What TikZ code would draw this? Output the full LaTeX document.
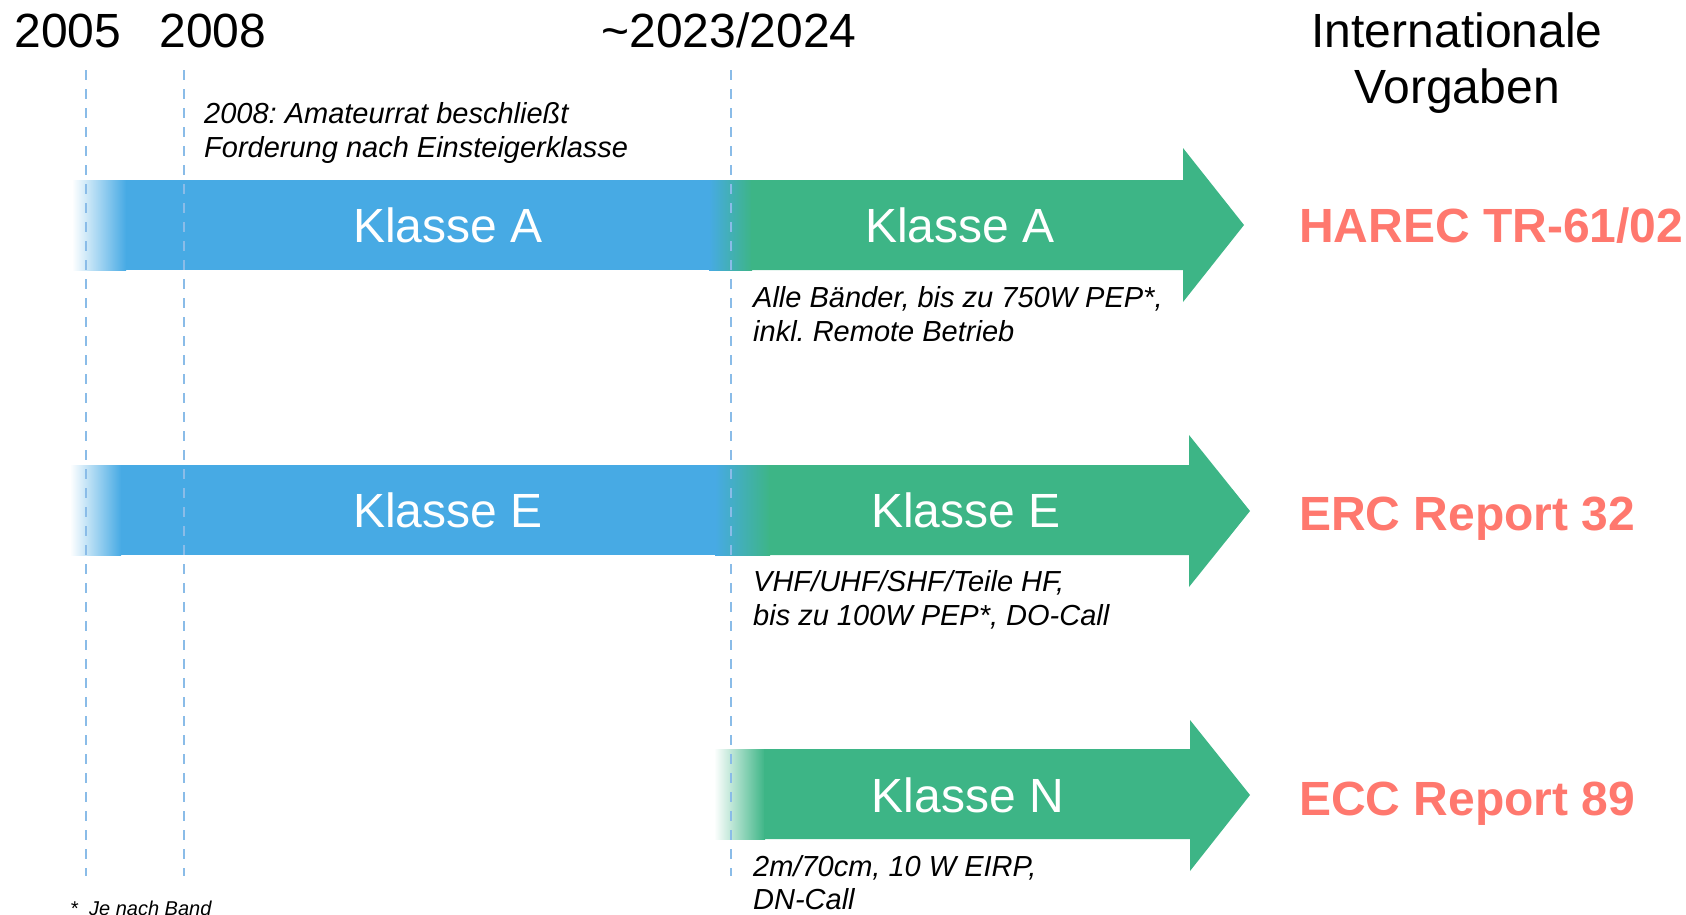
\documentclass[tikz,border=0pt]{standalone}
\usepackage{fontspec}
\setmainfont{Liberation Sans}
\frenchspacing
\definecolor{barblue}{RGB}{71,170,228}
\definecolor{bargreen}{RGB}{61,181,134}
\definecolor{refred}{RGB}{255,120,110}
\definecolor{dashblue}{RGB}{138,188,232}
\tikzset{
  yearlbl/.style={font=\fontsize{48}{56}\selectfont, anchor=base, inner sep=0pt},
  klasselbl/.style={font=\fontsize{48}{56}\selectfont, text=white, anchor=base, inner sep=0pt},
  reflbl/.style={font=\bfseries\fontsize{48}{56}\selectfont, text=refred, anchor=base west, inner sep=0pt},
  notelbl/.style={font=\itshape\fontsize{29}{34}\selectfont, anchor=base west, inner sep=0pt},
  footlbl/.style={font=\itshape\fontsize{20}{24}\selectfont, anchor=base west, inner sep=0pt},
  guide/.style={draw=dashblue, line width=2.6pt, dash pattern=on 10pt off 9pt},
  bluebar/.style={fill=barblue, draw=none},
  greenarrow/.style={fill=bargreen, draw=none},
}
\begin{document}
\begin{tikzpicture}[x=1pt,y=-1pt]
\useasboundingbox (0,0) rectangle (1686,914);

% ---------- Row A ----------
\path[bluebar] (124,180) rectangle (731,270);
\shade[left color=white, right color=barblue, draw=none] (72,180) rectangle (126,270);
\shade[left color=barblue, right color=bargreen, draw=none] (709,180) rectangle (752,270);
\path[greenarrow] (751,180) -- (1183,180) -- (1183,148) -- (1244,225) -- (1183,302) -- (1183,270) -- (751,270) -- cycle;

% ---------- Row E ----------
\path[bluebar] (119,465) rectangle (731,555);
\shade[left color=white, right color=barblue, draw=none] (70,465) rectangle (121,555);
\shade[left color=barblue, right color=bargreen, draw=none] (715,465) rectangle (770,555);
\path[greenarrow] (769,465) -- (1189,465) -- (1189,435) -- (1250,511) -- (1189,587) -- (1189,555) -- (769,555) -- cycle;

% ---------- Row N ----------
\shade[left color=white, right color=bargreen, draw=none] (714,749) rectangle (765,839);
\path[greenarrow] (764,749) -- (1190,749) -- (1190,720) -- (1250,795) -- (1190,871) -- (1190,839) -- (764,839) -- cycle;

% ---------- guide lines ----------
\coordinate (g1t) at (86,70);   \coordinate (g1b) at (86,876);
\coordinate (g2t) at (184,70);  \coordinate (g2b) at (184,876);
\coordinate (g3t) at (731,70);  \coordinate (g3b) at (731,876);
\draw[guide] (g1t) -- (g1b);
\draw[guide] (g2t) -- (g2b);
\draw[guide] (g3t) -- (g3b);

% ---------- headings ----------
\node[yearlbl] (y2005) at (68,47) {2005};
\node[yearlbl] (y2008) at (213,47) {2008};
\node[yearlbl] (y2023) at (729,47) {\char"007E 2023/2024};
\node[yearlbl] (int1) at (1457,47) {Internationale};
\node[yearlbl] (int2) at (1457,103) {Vorgaben};

% ---------- notes ----------
\node[notelbl] (n1a) at (204,123) {2008: Amateurrat beschließt};
\node[notelbl] (n1b) at (204,157) {Forderung nach Einsteigerklasse};
\node[notelbl] (n2a) at (753,307) {Alle Bänder, bis zu 750W PEP*,};
\node[notelbl] (n2b) at (753,341) {inkl. Remote Betrieb};
\node[notelbl] (n3a) at (753,591) {VHF/UHF/SHF/Teile HF,};
\node[notelbl] (n3b) at (753,625) {bis zu 100W PEP*, DO-Call};
\node[notelbl] (n4a) at (753,876) {2m/70cm, 10 W EIRP,};
\node[notelbl] (n4b) at (753,909) {DN-Call};
\node[footlbl] (foot) at (70,915) {*\ \ Je nach Band};

% ---------- class labels ----------
\node[klasselbl] (kAb) at (448,242) {Klasse A};
\node[klasselbl] (kAg) at (960,242) {Klasse A};
\node[klasselbl] (kEb) at (448,527) {Klasse E};
\node[klasselbl] (kEg) at (966,527) {Klasse E};
\node[klasselbl] (kNg) at (968,812) {Klasse N};

% ---------- references ----------
\node[reflbl] (rA) at (1299,242) {HAREC TR-61/02};
\node[reflbl] (rE) at (1299,530) {ERC Report 32};
\node[reflbl] (rN) at (1299,815) {ECC Report 89};
\end{tikzpicture}
\end{document}
